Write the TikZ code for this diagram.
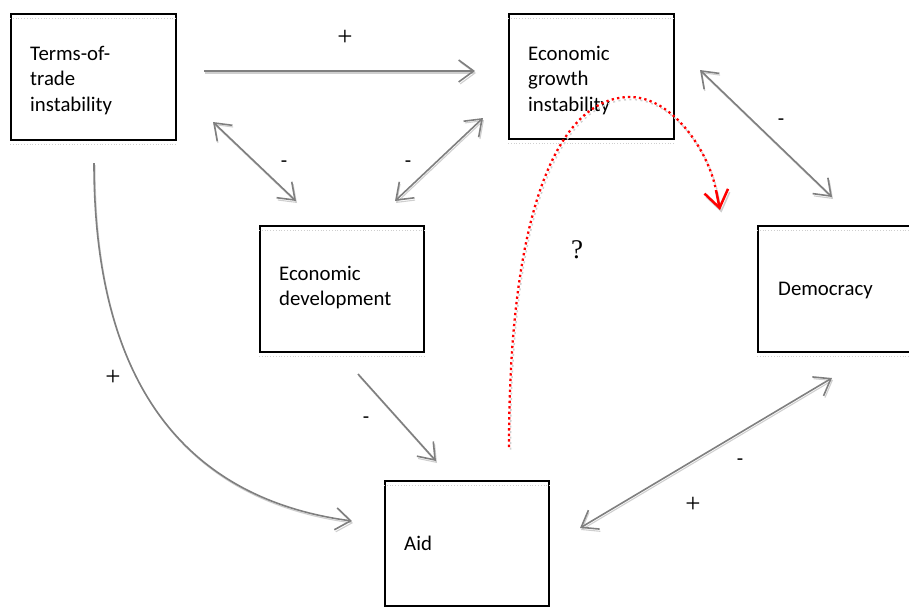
\documentclass[tikz,border=0pt]{standalone}
\usepackage{fontspec}
\setmainfont{Carlito}
\newfontfamily\serifplus{Liberation Serif}
\usetikzlibrary{arrows.meta}
\definecolor{lgray}{HTML}{7F7F7F}
\definecolor{sgray}{HTML}{CFCFCF}
\begin{document}
\begin{tikzpicture}[x=1pt,y=-1pt,
  box/.style={draw=black,line width=1.7pt,rectangle,inner sep=0pt,anchor=north west},
  txt/.style={inner sep=0pt,anchor=base west,font=\fontsize{20.8}{25.5}\selectfont},
  sign/.style={inner sep=0pt,font=\fontsize{20.8}{25.5}\selectfont},
  plus/.style={inner sep=0pt,font=\serifplus\fontsize{27}{28}\selectfont},
  faint/.style={draw=sgray,line width=0.8pt,dotted},
  shd/.style={preaction={draw=sgray,line width=1.1pt,transform canvas={shift={(1,2)}}}},
  conn/.style={draw=lgray,line width=1.6pt,shd},
  one/.style={conn,-{Straight Barb[length=15pt,width=22pt]}},
  two/.style={conn,{Straight Barb[length=15pt,width=22pt]}-{Straight Barb[length=15pt,width=22pt]}},
  redc/.style={draw=red,line width=2.3pt,dash pattern=on 2.3pt off 3.2pt,
     preaction={draw=sgray,line width=1.5pt,dash pattern=on 2pt off 3.5pt,transform canvas={shift={(1.5,2.5)}}}},
  redtip/.style={draw=red,line width=2.5pt,-{Straight Barb[length=17pt,width=24pt]},
     preaction={draw=sgray,line width=1.5pt,-{Straight Barb[length=17pt,width=24pt]},transform canvas={shift={(1.5,2.5)}}}}
]
\useasboundingbox (0,0) rectangle (909,606);

% boxes
\node[box,minimum width=165,minimum height=126] (tot) at (10,13) {};
\node[box,minimum width=165,minimum height=125] (egi) at (508,13) {};
\node[box,minimum width=164,minimum height=126] (ed) at (259,225) {};
\node[box,minimum width=170,minimum height=126] (dem) at (757,225) {};
\node[box,minimum width=164,minimum height=125] (aid) at (384,480) {};

% faint dotted decorations
\foreach \b in {tot,egi,ed,dem,aid}{
  \draw[faint] ([yshift=-5pt]\b.north west) -- ([yshift=-5pt]\b.north east);
  \draw[faint] ([yshift=-4pt]\b.south west) -- ([yshift=-4pt]\b.south east);
}

% texts
\node[txt] (tott) at (30,60) {\begin{tabular}[t]{@{}l@{}}Terms-of-\\trade\\instability\end{tabular}};
\node[txt] (egit) at (528,60) {\begin{tabular}[t]{@{}l@{}}Economic\\growth\\instability\end{tabular}};
\node[txt] (edt) at (279,280) {\begin{tabular}[t]{@{}l@{}}Economic\\development\end{tabular}};
\node[txt] (demt) at (778,295) {Democracy};
\node[txt] (aidt) at (404,550) {Aid};

% connector end points
\coordinate (h1) at (204,71);  \coordinate (h2) at (475,71);
\coordinate (a1) at (213,122); \coordinate (a2) at (296,201);
\coordinate (b1) at (395,201); \coordinate (b2) at (483,118);
\coordinate (c1) at (700,70);  \coordinate (c2) at (832,197);
\coordinate (d1) at (358,374); \coordinate (d2) at (436,461);
\coordinate (e1) at (580,528); \coordinate (e2) at (832,378);
\coordinate (f1) at (94,163);  \coordinate (f2) at (352,521);
\coordinate (r1) at (509,447); \coordinate (rp) at (630,97);
\coordinate (r3) at (716,190); \coordinate (r2) at (720,210);

% connectors
\draw[one] (h1) -- (h2);
\draw[two] (a1) -- (a2);
\draw[two] (b1) -- (b2);
\draw[two] (c1) -- (c2);
\draw[one] (d1) -- (d2);
\draw[two] (e1) -- (e2);
\draw[one] (f1) .. controls (94,395) and (195,500) .. (f2);
\draw[redc] (r1) .. controls (509,200) and (562,97) .. (rp) .. controls (672,97) and (708,150) .. (r3);
\draw[redtip] (r3) -- (r2);

% signs
\node[plus] (p1) at (345,38) {+};
\node[plus] (p2) at (113,378) {+};
\node[plus] (p3) at (693,505) {+};
\node[plus] (q) at (577,250) {?};
\node[sign] (m1) at (284,164) {-};
\node[sign] (m2) at (408,164) {-};
\node[sign] (m3) at (781,122) {-};
\node[sign] (m4) at (366,420) {-};
\node[sign] (m5) at (740,462) {-};
\end{tikzpicture}
\end{document}
